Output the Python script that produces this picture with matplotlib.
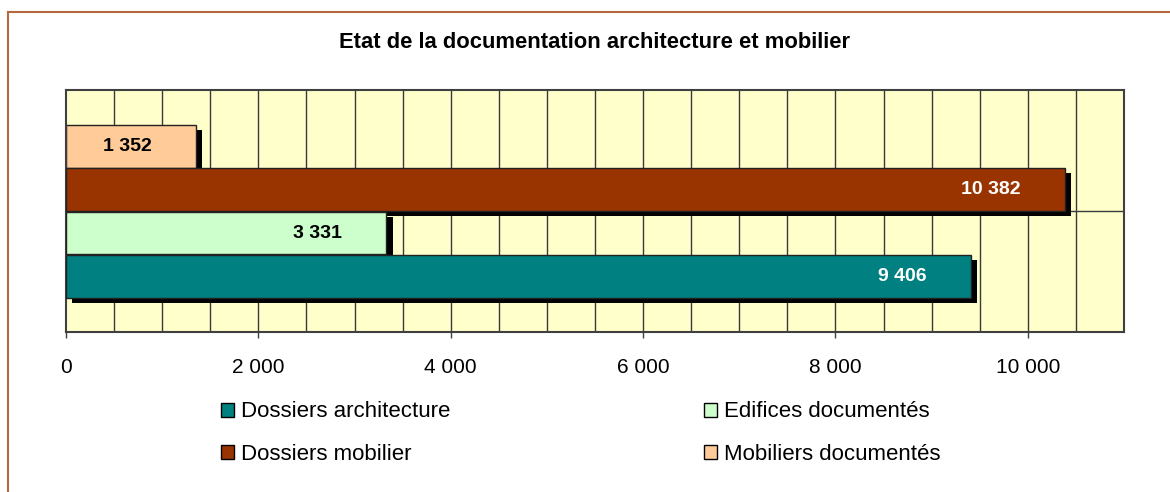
import matplotlib.pyplot as plt
import matplotlib.patheffects as pe
from matplotlib.patches import Patch
from matplotlib.lines import Line2D
import numpy as np

plt.rcParams['font.family'] = ['Liberation Sans', 'DejaVu Sans']

# données
series = ['Dossiers architecture', 'Edifices documentés',
          'Dossiers mobilier', 'Mobiliers documentés']
valeurs = [9406, 3331, 10382, 1352]
couleurs = ['#008080', '#CCFFCC', '#993300', '#FFCC99']
couleurs_txt = ['white', 'black', 'white', 'black']
etiquettes = ['9 406', '3 331', '10 382', '1 352']
ticks = [0, 2000, 4000, 6000, 8000, 10000]
tick_labels = ['0', '2 000', '4 000', '6 000', '8 000', '10 000']

fig = plt.figure(figsize=(11.7, 4.92), dpi=100)
fig.patch.set_facecolor('white')

# cadre du graphique
fig.add_artist(Line2D([7.5/1170, 7.5/1170], [0, 1 - 12/492], color='#B5673F', lw=1.5))
fig.add_artist(Line2D([7.5/1170, 1], [1 - 12/492, 1 - 12/492], color='#B5673F', lw=1.5))

ax = fig.add_axes([66/1170, 1 - 332/492, 1058/1170, 242/492])
ax.set_facecolor('#FFFFCC')
ax.set_xlim(0, 11000)
ax.set_ylim(0, 2)

# grille
for gx in np.arange(500, 11000, 500):
    ax.axvline(gx, color='#3a3a3a', lw=1, zorder=1)
ax.axhline(1, color='#3a3a3a', lw=1, zorder=1)

pos = 0.46 + np.arange(4) * 0.358
hauteur = 0.355
ombre = [pe.SimplePatchShadow(offset=(4.5, -3.6), shadow_rgbFace='black', alpha=1), pe.Normal()]

for i in [3, 2, 1, 0]:
    b = ax.barh(pos[i], valeurs[i], height=hauteur, color=couleurs[i],
                edgecolor='#222222', lw=1, zorder=2 + (3 - i))
    b[0].set_path_effects(ombre)
    ax.annotate(etiquettes[i], xy=(valeurs[i], pos[i]), xytext=(-32, 0),
                textcoords='offset points', ha='right', va='center',
                fontsize=14, fontweight='bold', color=couleurs_txt[i], zorder=10)

ax.set_yticks([])
ax.set_xticks(ticks)
ax.set_xticklabels(tick_labels, fontsize=15)
ax.tick_params(axis='x', length=4, width=1, color='#404040', pad=15)
for s in ax.spines.values():
    s.set_color('#404040')
    s.set_linewidth(1.5)

fig.text(0.508, 1 - 42/492, 'Etat de la documentation architecture et mobilier',
         ha='center', va='center', fontsize=15.8, fontweight='bold')

h = [Patch(facecolor=couleurs[i], edgecolor='black') for i in range(4)]
opts = dict(loc='center left', frameon=False, fontsize=16,
            handlelength=0.6, handleheight=0.6, handletextpad=0.3,
            labelspacing=0.95, borderaxespad=0)
leg1 = fig.legend([h[0], h[2]], [series[0], series[2]],
                  bbox_to_anchor=(212/1170, 1 - 433/492), **opts)
leg2 = fig.legend([h[1], h[3]], [series[1], series[3]],
                  bbox_to_anchor=(695/1170, 1 - 433/492), **opts)

fig.savefig('out.png', dpi=100)
